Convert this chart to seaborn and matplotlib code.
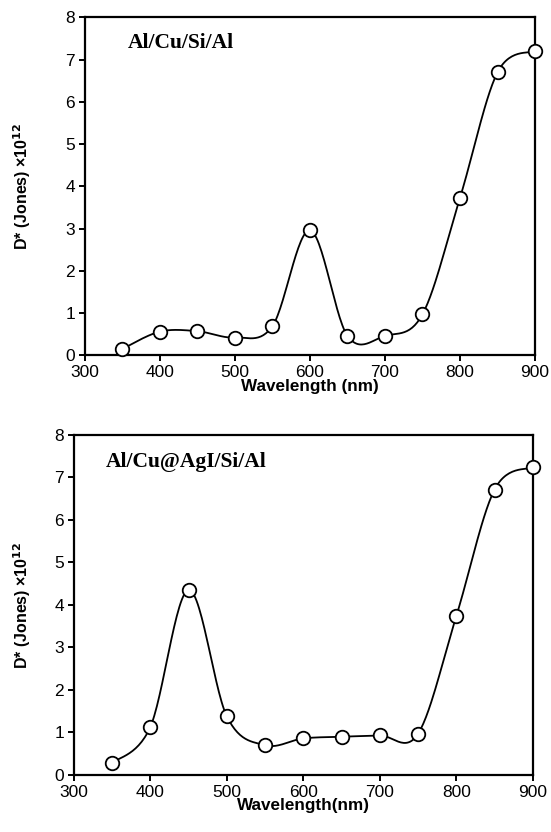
import numpy as np
import pandas as pd
import matplotlib
matplotlib.use("Agg")
import matplotlib.pyplot as plt
import seaborn as sns

wavelength = [350, 400, 450, 500, 550, 600, 650, 700, 750, 800, 850, 900]
d_cu = [0.15, 0.56, 0.57, 0.42, 0.69, 2.96, 0.46, 0.46, 0.97, 3.73, 6.70, 7.21]
d_cu_agi = [0.28, 1.13, 4.35, 1.38, 0.70, 0.86, 0.90, 0.93, 0.97, 3.74, 6.71, 7.24]

sns.set_style("ticks")
plt.rcParams['font.family'] = ['Liberation Sans', 'DejaVu Sans']
for k in ['axes.edgecolor', 'xtick.color', 'ytick.color', 'text.color', 'axes.labelcolor']:
    plt.rcParams[k] = 'black'


def smooth(xs, ys, n=30):
    # excel-like smoothed line (catmull-rom through the points)
    p = np.column_stack([xs, ys]).astype(float)
    p = np.vstack([p[0], p, p[-1]])
    out = []
    t = np.linspace(0, 1, n)[:, None]
    for i in range(1, len(p) - 2):
        p0, p1, p2, p3 = p[i - 1], p[i], p[i + 1], p[i + 2]
        c1 = p1 + (p2 - p0) / 6
        c2 = p2 - (p3 - p1) / 6
        seg = ((1 - t) ** 3) * p1 + 3 * ((1 - t) ** 2) * t * c1 + 3 * (1 - t) * t ** 2 * c2 + t ** 3 * p2
        out.append(seg if i == 1 else seg[1:])
    out = np.vstack(out)
    return pd.DataFrame({'x': out[:, 0], 'y': out[:, 1]})


fig = plt.figure(figsize=(5.51, 8.32), dpi=100)
ax1 = fig.add_axes([0.154, 0.573, 0.817, 0.406])
ax2 = fig.add_axes([0.134, 0.0685, 0.833, 0.409])

panels = [(ax1, d_cu, 'Al/Cu/Si/Al', 'Wavelength (nm)', (0.095, 0.925), -0.115),
          (ax2, d_cu_agi, 'Al/Cu@AgI/Si/Al', 'Wavelength(nm)', (0.07, 0.92), -0.090)]

for ax, vals, name, xlab, pos, ylx in panels:
    curve = smooth(wavelength, vals)
    sns.lineplot(data=curve, x='x', y='y', ax=ax, sort=False, color='black', lw=1.3)
    df = pd.DataFrame({'wl': wavelength, 'd': vals})
    sns.scatterplot(data=df, x='wl', y='d', ax=ax, s=95, color='white',
                    edgecolor='black', linewidth=1.3, zorder=3, clip_on=False)
    ax.set_xlim(300, 900)
    ax.set_ylim(0, 8)
    ax.set_xticks(range(300, 901, 100))
    ax.set_yticks(range(0, 9))
    ax.tick_params(direction='out', length=4, width=1.4, labelsize=12.5, pad=3)
    for sp in ax.spines.values():
        sp.set_linewidth(1.6)
        sp.set_visible(True)
    ax.set_xlabel(xlab, fontsize=12.3, fontweight='bold', labelpad=-1)
    ax.set_ylabel(r'D* (Jones) ×10$^{\mathbf{12}}$', fontsize=11.5, fontweight='bold')
    ax.yaxis.set_label_coords(ylx, 0.5)
    ax.text(pos[0], pos[1], name, transform=ax.transAxes, ha='left', va='center',
            fontsize=15.5, fontweight='bold', family='Liberation Serif')

fig.savefig('out.png', dpi=100)
